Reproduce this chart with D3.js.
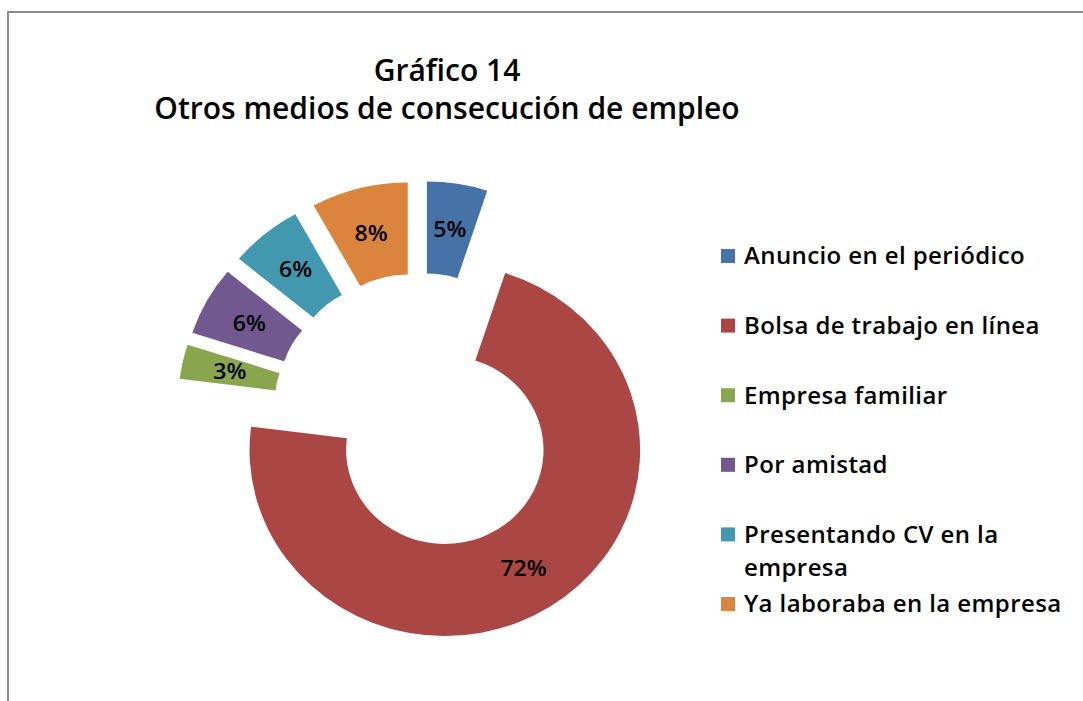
<!DOCTYPE html>
<html lang="es">
<head>
<meta charset="utf-8">
<title>Gráfico 14</title>
<style>
body { margin: 0; background: #fff; }
svg { display: block; font-family: "Open Sans", sans-serif; }
.title { font-size: 30px; font-weight: 600; }
.legend text { font-size: 24px; font-weight: 600; letter-spacing: 0.4px; }
.label { font-size: 22px; font-weight: 600; }
</style>
</head>
<body>
<svg width="1083" height="701"></svg>
<script src="https://cdn.jsdelivr.net/npm/d3@7"></script>
<script>

const categories = ['Anuncio en el periódico', 'Bolsa de trabajo en línea', 'Empresa familiar',
                    'Por amistad', 'Presentando CV en la empresa', 'Ya laboraba en la empresa'];
const shares = [5, 72, 3, 6, 6, 8];
const colors = ['#4572A7', '#AA4643', '#89A54E', '#71588F', '#4198AF', '#DB843D'];
const titleLines = ['Gráfico 14', 'Otros medios de consecución de empleo'];

const svg = d3.select('svg');

// frame (only top and left edges are visible in the crop)
svg.append('path')
    .attr('d', 'M8,701 V12 H1083')
    .attr('fill', 'none')
    .attr('stroke', '#8a8a8a')
    .attr('stroke-width', 2);

svg.append('text')
    .attr('class', 'title')
    .attr('text-anchor', 'middle')
  .selectAll('tspan')
  .data(titleLines)
  .enter().append('tspan')
    .attr('x', 447)
    .attr('y', (d, i) => 81 + i * 38)
    .text(d => d);

// donut -- the original picture is a bit wider than tall, hence the x stretch
const cx = 419.5, cy = 412, outerR = 186, innerR = 94, explode = 45, stretch = 1.05;

const pie = d3.pie().sort(null).value(d => d.value);
const arc = d3.arc().innerRadius(innerR).outerRadius(outerR);
const color = d3.scaleOrdinal().domain(categories).range(colors);

const slices = pie(categories.map((c, i) => ({name: c, value: shares[i]})));

const slice = svg.append('g')
    .attr('transform', 'translate(' + cx + ',' + cy + ') scale(' + stretch + ',1)')
  .selectAll('g')
  .data(slices)
  .enter().append('g')
    .attr('transform', d => {
      const a = (d.startAngle + d.endAngle) / 2;
      return 'translate(' + (explode * Math.sin(a)) + ',' + (-explode * Math.cos(a)) + ')';
    });

slice.append('path')
    .attr('d', arc)
    .attr('fill', d => color(d.data.name));

slice.append('text')
    .attr('class', 'label')
    .attr('text-anchor', 'middle')
    .attr('dy', '0.35em')
    .attr('transform', d => 'translate(' + arc.centroid(d) + ')')
    .text(d => d3.format('.0f')(d.value) + '%');

// legend
const ly = d3.scalePoint().domain(categories).range([256, 604]);
const maxTextW = 330;

const legend = svg.append('g')
    .attr('class', 'legend')
  .selectAll('g')
  .data(categories)
  .enter().append('g')
    .attr('transform', d => 'translate(721,' + ly(d) + ')');

legend.append('rect')
    .attr('y', -7)
    .attr('width', 14)
    .attr('height', 14)
    .attr('fill', color);

legend.append('text')
    .each(function(d) {
      // simple word wrap like the spreadsheet legend
      const t = d3.select(this);
      const words = d.split(' ');
      let line = [];
      let tspan = t.append('tspan').attr('x', 23).attr('dy', '0.35em');
      words.forEach(w => {
        line.push(w);
        tspan.text(line.join(' '));
        if (tspan.node().getComputedTextLength() > maxTextW && line.length > 1) {
          line.pop();
          tspan.text(line.join(' '));
          line = [w];
          tspan = t.append('tspan').attr('x', 23).attr('dy', '1.375em').text(w);
        }
      });
    });

</script>
</body>
</html>
